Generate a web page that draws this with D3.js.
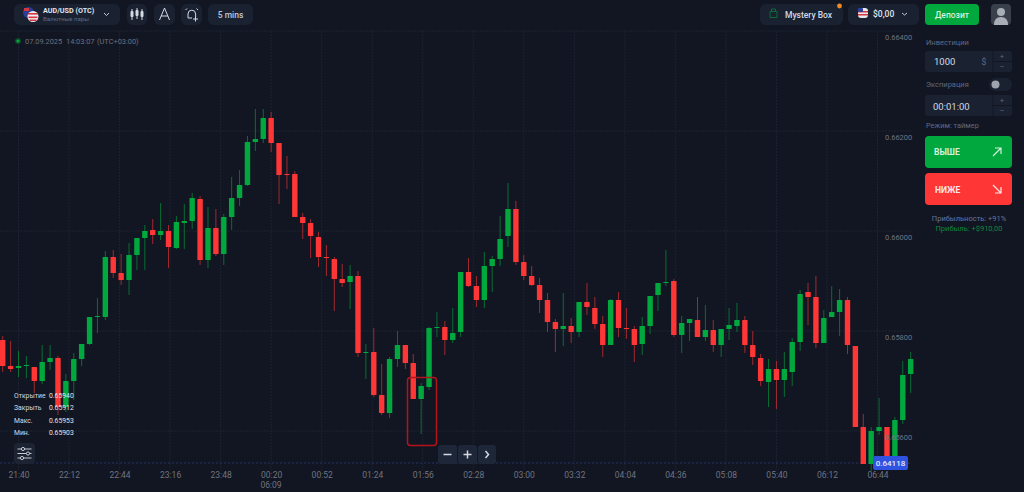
<!DOCTYPE html>
<html>
<head>
<meta charset="utf-8">
<script src="https://cdn.jsdelivr.net/npm/d3@7"></script>
<style>
  html, body { margin: 0; padding: 0; background: #121622; overflow: hidden; }
  svg { display: block; font-family: Roboto, sans-serif; }
  .axis path, .axis line { display: none; }
  .axis text { fill: #6f7480; font-family: Roboto, sans-serif; }
</style>
</head>
<body>
<script>
// prices in 1/100000
var opens = [65782,65730,65726,65730,65728,65700,65738,65746,65648,65700,65744,65774,65828,65828,65948,65916,65902,65952,65986,66002,65992,66000,65966,66016,66020,66064,65942,66006,65954,66028,66066,66092,66178,66184,66226,66176,66114,66114,66028,66016,65988,65948,65944,65904,65898,65910,65756,65758,65672,65636,65744,65772,65736,65664,65688,65806,65808,65782,65798,65918,65890,65862,65930,65944,65990,66044,65938,65910,65892,65862,65818,65804,65810,65798,65858,65846,65814,65772,65862,65806,65804,65774,65810,65872,65896,65900,65792,65816,65822,65788,65802,65772,65804,65810,65822,65772,65746,65698,65724,65702,65718,65778,65878,65868,65776,65828,65838,65862,65770,65608,65534,65600,65608,65534,65622,65714];
var closes = [65730,65724,65730,65732,65700,65738,65746,65648,65700,65744,65774,65828,65830,65948,65916,65902,65952,65986,66000,65992,66000,65968,66018,66020,66066,65942,66006,65954,66028,66066,66092,66178,66184,66226,66176,66112,66112,66028,66016,65990,65948,65946,65904,65896,65910,65756,65758,65672,65636,65744,65772,65736,65664,65690,65806,65808,65782,65796,65918,65890,65862,65930,65944,65984,66044,65938,65910,65892,65862,65818,65804,65810,65798,65858,65848,65814,65772,65862,65806,65804,65772,65810,65870,65896,65898,65792,65816,65824,65788,65802,65772,65804,65812,65822,65772,65748,65700,65724,65702,65724,65778,65874,65868,65776,65826,65838,65862,65772,65608,65534,65600,65608,65534,65622,65712,65744];
var highs = [65790,65780,65760,65750,65728,65772,65772,65750,65714,65756,65774,65828,65866,65960,65962,65954,65976,65986,66012,66024,66056,66012,66030,66054,66076,66070,66048,66044,66034,66108,66122,66190,66244,66244,66238,66176,66150,66120,66036,66024,65998,65972,65948,65934,65932,65920,65774,65806,65734,65748,65800,65772,65754,65696,65808,65838,65820,65846,65918,65946,65910,65958,65950,66030,66096,66060,65952,65930,65906,65876,65824,65876,65826,65858,65896,65868,65830,65864,65878,65846,65810,65828,65870,65896,65962,65904,65830,65824,65868,65852,65822,65804,65846,65856,65830,65800,65754,65744,65740,65758,65786,65882,65896,65910,65842,65890,65884,65868,65770,65634,65608,65666,65608,65628,65740,65758];
var lows = [65718,65718,65708,65706,65676,65694,65722,65632,65638,65662,65730,65772,65796,65822,65906,65892,65872,65922,65922,65974,65982,65926,65964,65964,66004,65932,65926,65950,65932,66002,66050,66090,66160,66176,66158,66054,66084,66028,65984,65946,65928,65910,65840,65888,65844,65748,65704,65668,65632,65626,65728,65724,65664,65594,65682,65788,65752,65776,65788,65888,65848,65846,65878,65930,65968,65932,65902,65890,65836,65798,65758,65770,65776,65788,65832,65804,65748,65772,65788,65784,65738,65752,65794,65840,65890,65788,65756,65780,65788,65780,65758,65748,65782,65798,65756,65732,65690,65648,65644,65668,65690,65760,65812,65766,65776,65828,65790,65754,65608,65534,65520,65592,65534,65534,65614,65676];

var timeLabels = ["21:40","22:12","22:44","23:16","23:48","00:20","00:52","01:24","01:56","02:28","03:00","03:32","04:04","04:36","05:08","05:40","06:12","06:44"];
var priceTicks = [0.664, 0.662, 0.66, 0.658, 0.656];
var statLabels = ["Открытие","Закрыть","Макс.","Мин."];
var statValues = ["0.65940","0.65912","0.65953","0.65903"];
var lastPrice = "0.64118";
var linePrice = 0.65536;

var width = 1024, height = 492;
var up = "#00a83e", down = "#ff3636", panel = "#1a2232";

var svg = d3.select("body").append("svg").attr("width", width).attr("height", height);
svg.append("rect").attr("width", width).attr("height", height).attr("fill", "#121622");

// minutes counted from the first labelled tick
var tickMinutes = timeLabels.map(function(d, i) { return i * 32; });
var x = d3.scaleLinear().domain([0, 544]).range([18.5, 877.5]);
var y = d3.scaleLinear().domain([0.664, 0.656]).range([31, 431]);

var candles = opens.map(function(d, i) {
  return {minute: (i - 2) * 5, open: d / 1e5, close: closes[i] / 1e5, high: highs[i] / 1e5, low: lows[i] / 1e5};
});

// grid
var grid = svg.append("g").attr("stroke", "#1c2231").attr("stroke-dasharray", "2,1");
grid.selectAll(".v").data(tickMinutes).enter().append("line")
    .attr("x1", x).attr("x2", x).attr("y1", 31).attr("y2", 470);
grid.selectAll(".h").data(priceTicks).enter().append("line")
    .attr("x1", 0).attr("x2", 912).attr("y1", y).attr("y2", y);

svg.append("line").attr("x1", 0).attr("x2", 912).attr("y1", y(linePrice)).attr("y2", y(linePrice))
    .attr("stroke", "#27306a").attr("stroke-dasharray", "2,2");

// candles
var candle = svg.append("g").selectAll("g").data(candles).enter().append("g")
    .attr("fill", function(d) { return d.close >= d.open ? up : down; })
    .attr("stroke", function(d) { return d.close >= d.open ? up : down; });

candle.append("line")
    .attr("x1", function(d) { return x(d.minute); })
    .attr("x2", function(d) { return x(d.minute); })
    .attr("y1", function(d) { return y(d.high); })
    .attr("y2", function(d) { return y(d.low); })
    .attr("stroke-width", 1)
    .attr("stroke-opacity", 0.6);

candle.append("rect")
    .attr("x", function(d) { return x(d.minute) - 2.7; })
    .attr("y", function(d) { return y(Math.max(d.open, d.close)); })
    .attr("width", 5.4)
    .attr("height", function(d) { return Math.max(1, Math.abs(y(d.open) - y(d.close))); })
    .attr("rx", 0.5)
    .attr("stroke", "none");

// axes
var xAxis = d3.axisBottom(x).tickValues(tickMinutes).tickSize(0)
    .tickFormat(function(d, i) { return timeLabels[i]; });
svg.append("g").attr("class", "axis").attr("transform", "translate(0,472)").call(xAxis)
    .selectAll("text").attr("font-size", 8.5).attr("y", 0).attr("dy", "0.7em");

var yAxis = d3.axisRight(y).tickValues(priceTicks).tickSize(0).tickFormat(d3.format(".5f"));
svg.append("g").attr("class", "axis").attr("transform", "translate(885,6)").call(yAxis)
    .selectAll("text").attr("font-size", 7.5).attr("x", 0);

function label(txt, px, py, size, color, anchor, weight) {
  return svg.append("text").attr("x", px).attr("y", py).attr("font-size", size).attr("fill", color)
      .attr("text-anchor", anchor || "start").attr("font-weight", weight || 400).text(txt);
}
function box(px, py, w, h, color, r) {
  return svg.append("rect").attr("x", px).attr("y", py).attr("width", w).attr("height", h)
      .attr("rx", r === undefined ? 4 : r).attr("fill", color);
}
function icon(d, tx, ty, color, sw) {
  return svg.append("path").attr("d", d).attr("transform", "translate(" + tx + "," + ty + ")")
      .attr("fill", "none").attr("stroke", color || "#d5d9e2").attr("stroke-width", sw || 1);
}

label("06:09", 271, 488, 8.5, "#6f7480", "middle");

// date line
svg.append("circle").attr("cx", 18).attr("cy", 41).attr("r", 3).attr("fill", "#0a4a2a");
svg.append("circle").attr("cx", 18).attr("cy", 41).attr("r", 1.6).attr("fill", "#0aa63e");
label("07.09.2025", 25, 44, 7.4, "#6a707d");
label("14:03:07", 66, 44, 7.4, "#6a707d");
label("(UTC+03:00)", 97, 44, 7.4, "#6a707d");

// top bar, left
box(14, 4, 106, 21, panel, 6);
svg.append("circle").attr("cx", 28.5).attr("cy", 12.5).attr("r", 5.5).attr("fill", "#2a3f9a");
svg.append("rect").attr("x", 24).attr("y", 8).attr("width", 5).attr("height", 3).attr("fill", "#d8363e");
svg.append("circle").attr("cx", 33).attr("cy", 16.5).attr("r", 5.5).attr("fill", "#eceef2");
svg.append("rect").attr("x", 28).attr("y", 13).attr("width", 10).attr("height", 1.6).attr("fill", "#d8363e");
svg.append("rect").attr("x", 28.5).attr("y", 16.5).attr("width", 9).attr("height", 1.6).attr("fill", "#d8363e");
svg.append("rect").attr("x", 29.5).attr("y", 19.5).attr("width", 7).attr("height", 1.5).attr("fill", "#d8363e");
label("AUD/USD (OTC)", 43, 13, 7.2, "#e2e5ec", "start", 700);
label("Валютные пары", 43, 21, 6, "#5d6a88");
icon("M0,0 L2.5,2.5 L5,0", 104, 13, "#c5c9d2");

box(127, 4, 20, 21, panel, 6);
icon("M2,1 V12 M7,0 V11 M12,1 V12", 130, 8, "#d5d9e2");
svg.append("rect").attr("x", 130.5).attr("y", 11).attr("width", 3).attr("height", 6).attr("rx", 1).attr("fill", "#d5d9e2");
svg.append("rect").attr("x", 135.5).attr("y", 10).attr("width", 3).attr("height", 6).attr("rx", 1).attr("fill", "#d5d9e2");
svg.append("rect").attr("x", 140.5).attr("y", 11).attr("width", 3).attr("height", 6).attr("rx", 1).attr("fill", "#d5d9e2");
box(154, 4, 21, 21, panel, 6);
icon("M5.5,0 L0.5,12 M5.5,0 L10.5,12 M2,8 H9", 159, 8, "#d5d9e2");
box(181, 4, 21, 21, panel, 6);
icon("M3,6 A3.8,3.8 0 1 1 10.6,6 V9 M3,6 V10 H7 M0.5,2 L2,0.5 M11.5,0.5 L13,2 M8,11 H13 M10.5,8.5 V13.5", 185, 8, "#d5d9e2");
box(208, 4, 45, 21, panel, 6);
label("5 mins", 230.5, 17.5, 8.5, "#c3c8d2", "middle", 500);

// top bar, right
box(760, 4, 83, 21, panel, 6);
icon("M1,6 H8 V12 H1 Z M2.5,6 V3.5 H6.5 V6", 769, 5.5, "#0c6b32");
label("Mystery Box", 785, 17.5, 8.5, "#d5d9e2", "start", 500);
svg.append("circle").attr("cx", 839.5).attr("cy", 6).attr("r", 2.4).attr("fill", "#f08a24");
box(848, 4, 71, 21, panel, 6);
box(858, 8, 10, 10, "#e6e8ee", 3);
svg.append("rect").attr("x", 858).attr("y", 11).attr("width", 10).attr("height", 1.5).attr("fill", "#d8363e");
svg.append("rect").attr("x", 858).attr("y", 14).attr("width", 10).attr("height", 1.5).attr("fill", "#d8363e");
box(858, 8, 5, 4, "#2a3f9a", 1);
label("$0,00", 873, 17, 8.5, "#e2e5ec", "start", 500);
icon("M0,0 L2.5,2 L5,0", 902, 13, "#c5c9d2");
box(925, 4, 54, 21, up, 4);
label("Депозит", 952, 17.5, 8.5, "#d8f0df", "middle", 500);
box(991, 4, 20, 21, "#3a3f4c", 4);
svg.append("circle").attr("cx", 1001).attr("cy", 12).attr("r", 4).attr("fill", "#a9adb5");
svg.append("path").attr("d", "M994,25 Q994,17 1001,17 Q1008,17 1008,25 Z").attr("fill", "#a9adb5");

// right panel
label("Инвестиции", 926, 45, 7.5, "#5d6a88");
box(925, 51, 87, 21, panel, 3);
label("1000", 934, 65, 9.5, "#d5d9e2");
label("$", 984, 65, 8.5, "#5d6a88", "middle");
svg.append("line").attr("x1", 993).attr("x2", 993).attr("y1", 51).attr("y2", 72).attr("stroke", "#121622");
svg.append("line").attr("x1", 993).attr("x2", 1012).attr("y1", 61.5).attr("y2", 61.5).attr("stroke", "#121622");
label("+", 1002, 59, 7, "#5d6a88", "middle");
label("–", 1002, 69, 7, "#5d6a88", "middle");
label("Экспирация", 926, 87, 7.5, "#5d6a88");
box(989, 78, 23, 13, panel, 6.5);
svg.append("circle").attr("cx", 995.5).attr("cy", 84.5).attr("r", 4).attr("fill", "#9fa3ad");
box(925, 95, 87, 21, panel, 3);
label("00:01:00", 933, 110, 9.5, "#d5d9e2");
svg.append("line").attr("x1", 993).attr("x2", 993).attr("y1", 95).attr("y2", 116).attr("stroke", "#121622");
svg.append("line").attr("x1", 993).attr("x2", 1012).attr("y1", 105.5).attr("y2", 105.5).attr("stroke", "#121622");
label("+", 1002, 103, 7, "#5d6a88", "middle");
label("–", 1002, 113, 7, "#5d6a88", "middle");
label("Режим: таймер", 926, 128, 7.4, "#5d6a88");

box(925, 136, 87, 32, up, 4);
label("ВЫШЕ", 934, 155, 8.5, "#d8f0df", "start", 700);
icon("M0,8 L8,0 M2,0 H8 V6", 993, 148, "#d8f0df", 1.2);
box(925, 173, 87, 32, down, 4);
label("НИЖЕ", 935, 193, 8.5, "#ffe5e5", "start", 700);
icon("M0,0 L8,8 M2,8 H8 V2", 993, 185, "#ffe5e5", 1.2);
label("Прибыльность: +91%", 969, 221, 7.5, "#6576a0", "middle");
label("Прибыль: +$910,00", 969, 231, 7.5, "#0c8a3e", "middle");

// OHLC read-out
statLabels.forEach(function(d, i) {
  label(d, 14, 398 + i * 12.3, 6.8, "#d5d9e2");
  label(statValues[i], 49, 398 + i * 12.3, 6.8, "#e2e5ec");
});
box(14, 443, 21, 21, "#1c2433", 4);
icon("M0,2 H14 M0,6.5 H14 M0,11 H14", 17.5, 447, "#c5c9d2");
[[23, 449], [28, 453.5], [22, 458]].forEach(function(p) {
  svg.append("circle").attr("cx", p[0]).attr("cy", p[1]).attr("r", 1.6).attr("fill", "#1c2433").attr("stroke", "#c5c9d2");
});

// highlighted candle
svg.append("rect").attr("x", 407.5).attr("y", 377.5).attr("width", 29).attr("height", 68).attr("rx", 3)
    .attr("fill", "none").attr("stroke", "#b3141c").attr("stroke-width", 1.5);

// zoom controls
box(438, 445, 19, 19, "#1e2738", 3);
box(458, 445, 19, 19, "#1e2738", 3);
box(478, 445, 18, 19, "#1e2738", 3);
icon("M3,0 H11", 440.5, 454.5, "#d5d9e2", 1.5);
icon("M3,4 H11 M7,0 V8", 460.5, 450.5, "#d5d9e2", 1.5);
icon("M0,0 L3,3.5 L0,7", 485.5, 451, "#d5d9e2", 1.5);

// last price badge
box(873, 456, 35, 14, "#2f52e0", 2);
label(lastPrice, 890.5, 466, 8, "#e6ebff", "middle", 500);
</script>
</body>
</html>
